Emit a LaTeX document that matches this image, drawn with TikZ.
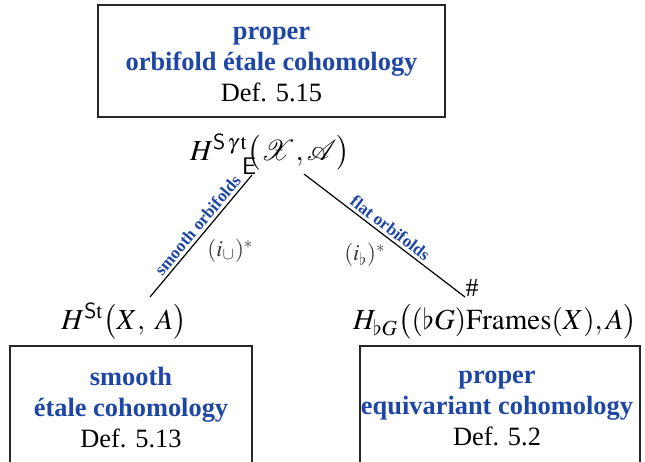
\documentclass[tikz,border=0pt]{standalone}
\usepackage{mathptmx}
\usepackage{mathrsfs}
\usepackage[no-math]{fontspec}
\setmainfont{Liberation Serif}
\usetikzlibrary{positioning}
\definecolor{orbblue}{RGB}{30,70,165}
\definecolor{mapgray}{RGB}{55,55,55}

\begin{document}
\begin{tikzpicture}[x=0.5pt,y=-0.5pt,
  every node/.style={font=\fontsize{13.2}{15.5}\selectfont},
  defbox/.style={draw=black!85, line width=0.7pt, align=center, inner sep=0pt},
  cohom/.style={anchor=base, font=\fontsize{14.5}{16}\selectfont},
  maplabel/.style={text=orbblue, font=\fontsize{8.6}{9}\selectfont\bfseries, inner sep=1.5pt},
  pullback/.style={text=mapgray, font=\fontsize{11.5}{12}\selectfont, inner sep=0pt}]
 \useasboundingbox (0,0) rectangle (645,462);
 \clip (0,0) rectangle (645,462);
 % definition boxes
 \node[defbox, minimum width=173.5pt, minimum height=56pt] (orbbox) at (271.5,61) {};
 \node[align=center] (orbtext) at (271.5,64)
   {\textcolor{orbblue}{\textbf{proper}}\\ \textcolor{orbblue}{\textbf{orbifold étale cohomology}}\\ Def. 5.15};
 \node[defbox, minimum width=121pt, minimum height=60pt] (smbox) at (131,406) {};
 \node[align=center] (smtext) at (131,408)
   {\textcolor{orbblue}{\textbf{smooth}}\\ \textcolor{orbblue}{\textbf{étale cohomology}}\\ Def. 5.13};
 \node[defbox, minimum width=140pt, minimum height=60pt] (eqbox) at (500,406) {};
 \node[align=center] (eqtext) at (497,408)
   {\textcolor{orbblue}{\textbf{proper}}\\ \textcolor{orbblue}{\textbf{equivariant cohomology}}\\ Def. 5.2};
 % cohomology groups
 \node[cohom] (orbcoh) at (270,160) {$H^{\mathsf{S}\,\gamma\,\mathrm{t}}\bigl(\mathscr{X},\mathscr{A}\bigr)$};
 \node[cohom] (smcoh) at (124,329) {$H^{\mathsf{S}\mathrm{t}}\bigl(X,\ A\bigr)$};
 \node[cohom] (eqcoh) at (495,329) {$H_{\flat G}\bigl((\flat G)\mathrm{Frames}(X),A\bigr)$};
 % restriction maps
 \draw[line width=0.6pt] ([shift={(-18,15)}]orbcoh.base) -- ([shift={(26,-32)}]smcoh.base)
   node[pos=0, anchor=south, xshift=-1.5pt, inner sep=0pt, font=\sffamily\fontsize{12}{12}\selectfont] (tailE) {E}
   node[pos=0.46, sloped, above, maplabel] (smlab) {smooth orbifolds}
   node[pos=0.62, right=9pt, pullback] (smpull) {$(i_{\cup})^{*}$};
 \draw[line width=0.6pt] ([shift={(34,14)}]orbcoh.base) -- ([shift={(-30,-32)}]eqcoh.base)
   node[pos=1, anchor=south west, inner sep=0pt, font=\fontsize{13}{13}\selectfont] (headhash) {\#}
   node[pos=0.5, sloped, above, maplabel] (eqlab) {flat orbifolds}
   node[pos=0.66, left=12pt, pullback] (eqpull) {$(i_{\flat})^{*}$};
\end{tikzpicture}
\end{document}
